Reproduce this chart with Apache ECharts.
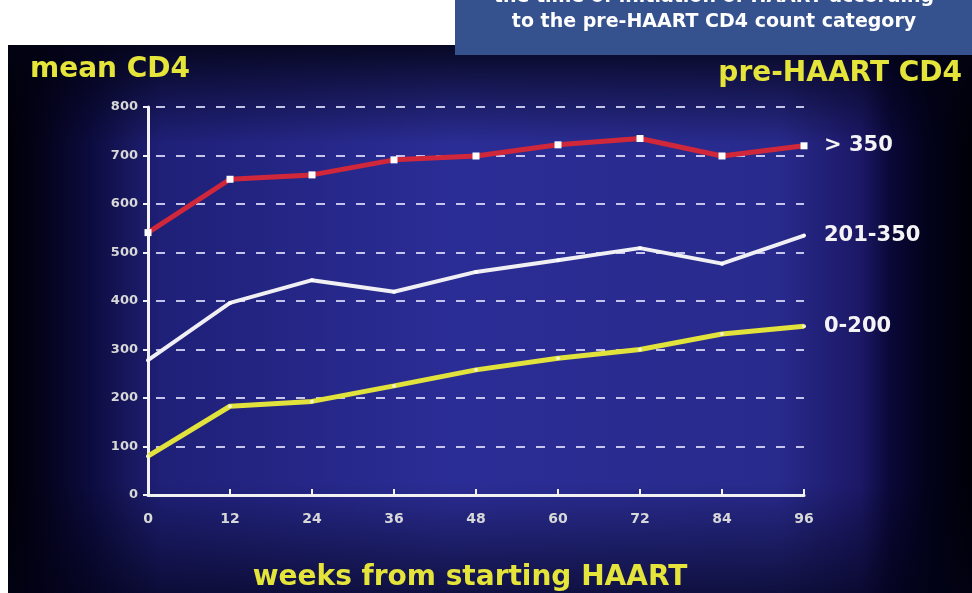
<!DOCTYPE html>
<html>
<head>
<meta charset="utf-8">
<script src="https://cdn.jsdelivr.net/npm/echarts@6/dist/echarts.min.js"></script>
<style>
  html, body { margin: 0; padding: 0; background: #fff; }
  #chart { width: 972px; height: 593px; }
</style>
</head>
<body>
<div id="chart"></div>
<script>
// weeks from starting HAART
const weeks = [0, 12, 24, 36, 48, 60, 72, 84, 96];
// mean CD4 per pre-HAART CD4 category
const cd4Over350 = [541, 651, 660, 691, 699, 722, 735, 699, 720];
const cd4_201_350 = [278, 396, 443, 419, 460, 484, 509, 477, 535];
const cd4_0_200 = [80, 183, 193, 225, 258, 282, 300, 332, 348];
const seriesNames = ['> 350', '201-350', '0-200'];

const pairs = vals => weeks.map((w, i) => [w, vals[i]]);

let myChart = echarts.init(document.getElementById('chart'));

const yellow = '#e4e43a';
const labelFont = 'DejaVu Sans';

let option = {
    animation: false,
    backgroundColor: '#ffffff',
    grid: { left: 148, right: 168, top: 107, bottom: 98 },
    graphic: [
        {
            // dark blue slide panel
            type: 'rect', z: -20,
            shape: { x: 8, y: 45, width: 964, height: 548 },
            style: {
                fill: {
                    type: 'linear', x: 0, y: 0, x2: 1, y2: 0,
                    colorStops: [
                        { offset: 0, color: '#010008' },
                        { offset: 0.035, color: '#04031a' },
                        { offset: 0.085, color: '#0c0b3e' },
                        { offset: 0.127, color: '#18185f' },
                        { offset: 0.16, color: '#1f2078' },
                        { offset: 0.46, color: '#2b2d96' },
                        { offset: 0.8, color: '#282a8c' },
                        { offset: 0.885, color: '#1c1866' },
                        { offset: 0.915, color: '#0a0838' },
                        { offset: 0.955, color: '#02021a' },
                        { offset: 1, color: '#000008' }
                    ]
                }
            }
        },
        {
            type: 'rect', z: -19,
            shape: { x: 8, y: 45, width: 964, height: 548 },
            style: {
                fill: {
                    type: 'linear', x: 0, y: 0, x2: 0, y2: 1,
                    colorStops: [
                        { offset: 0, color: 'rgba(2,2,18,0.85)' },
                        { offset: 0.18, color: 'rgba(2,2,18,0)' },
                        { offset: 0.8, color: 'rgba(2,2,18,0)' },
                        { offset: 1, color: 'rgba(2,2,22,0.65)' }
                    ]
                }
            }
        },
        {
            // caption box top right
            type: 'rect', z: -5,
            shape: { x: 455, y: 0, width: 517, height: 55 },
            style: { fill: '#35528f' }
        },
        {
            type: 'text', z: -4, x: 714, y: -3,
            style: {
                text: 'the time of initiation of HAART according',
                fill: '#ffffff', font: 'bold 19px "DejaVu Sans"',
                align: 'center', verticalAlign: 'middle'
            }
        },
        {
            type: 'text', z: -4, x: 714, y: 22,
            style: {
                text: 'to the pre-HAART CD4 count category',
                fill: '#ffffff', font: 'bold 19px "DejaVu Sans"',
                align: 'center', verticalAlign: 'middle'
            }
        },
        {
            type: 'text', x: 30, y: 70,
            style: {
                text: 'mean CD4', fill: yellow,
                font: 'bold 28px "DejaVu Sans"', verticalAlign: 'middle'
            }
        },
        {
            type: 'text', x: 962, y: 74,
            style: {
                text: 'pre-HAART CD4', fill: yellow,
                font: 'bold 28px "DejaVu Sans"', align: 'right', verticalAlign: 'middle'
            }
        },
        {
            type: 'text', x: 470, y: 578,
            style: {
                text: 'weeks from starting HAART', fill: yellow,
                font: 'bold 28px "DejaVu Sans"', align: 'center', verticalAlign: 'middle'
            }
        }
    ],
    xAxis: {
        type: 'value', min: 0, max: 96, interval: 12,
        axisLine: { lineStyle: { color: '#f2f2f2', width: 3 } },
        axisTick: { show: true, inside: true, length: 6, lineStyle: { color: '#f2f2f2', width: 2 } },
        axisLabel: { color: '#d8d8d8', fontFamily: labelFont, fontWeight: 'bold', fontSize: 14, margin: 17 },
        splitLine: { show: false }
    },
    yAxis: {
        type: 'value', min: 0, max: 800, interval: 100,
        axisLine: { show: true, lineStyle: { color: '#f2f2f2', width: 3 } },
        axisTick: { show: true, length: 5, lineStyle: { color: '#f2f2f2', width: 2 } },
        axisLabel: { color: '#d8d8d8', fontFamily: labelFont, fontWeight: 'bold', fontSize: 13, margin: 10 },
        splitLine: {
            show: true,
            lineStyle: { color: 'rgba(225,225,255,0.85)', width: 2, type: [9, 11], dashOffset: -8 }
        }
    },
    series: [
        {
            name: seriesNames[0], type: 'line', data: pairs(cd4Over350),
            symbol: 'rect', symbolSize: 7,
            itemStyle: { color: '#ffffff' },
            lineStyle: { color: '#d0283a', width: 5 },
            endLabel: {
                show: true, formatter: '{a}', distance: 20, color: '#f4f4f4',
                fontFamily: labelFont, fontWeight: 'bold', fontSize: 21
            }
        },
        {
            name: seriesNames[1], type: 'line', data: pairs(cd4_201_350),
            symbol: 'circle', symbolSize: 4,
            itemStyle: { color: '#ffffff' },
            lineStyle: { color: '#f0f0f4', width: 4 },
            endLabel: {
                show: true, formatter: '{a}', distance: 20, color: '#f4f4f4',
                fontFamily: labelFont, fontWeight: 'bold', fontSize: 21
            }
        },
        {
            name: seriesNames[2], type: 'line', data: pairs(cd4_0_200),
            symbol: 'circle', symbolSize: 4,
            itemStyle: { color: '#f4f4c0' },
            lineStyle: { color: '#e2e23c', width: 5 },
            endLabel: {
                show: true, formatter: '{a}', distance: 20, color: '#f4f4f4',
                fontFamily: labelFont, fontWeight: 'bold', fontSize: 21
            }
        }
    ]
};
myChart.setOption(option);
</script>
</body>
</html>
